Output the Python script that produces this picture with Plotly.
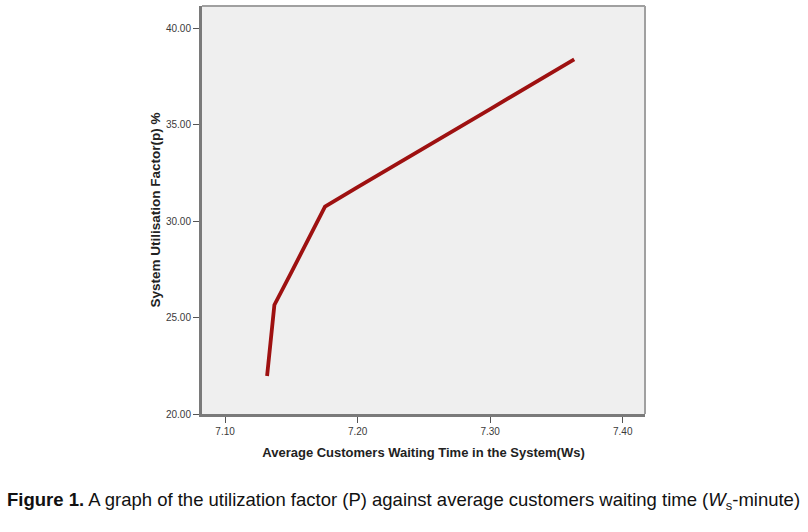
import plotly.graph_objects as go

# Data
waiting_time = [7.1317, 7.1372, 7.150, 7.166, 7.1754, 7.200, 7.250, 7.300, 7.3634]
utilisation = [21.97, 25.65, 27.34, 29.43, 30.74, 31.76, 33.76, 35.80, 38.38]

x_ticks = [7.10, 7.20, 7.30, 7.40]
x_tick_labels = ["7.10", "7.20", "7.30", "7.40"]
y_ticks = [20, 25, 30, 35, 40]
y_tick_labels = ["20.00", "25.00", "30.00", "35.00", "40.00"]

fig = go.Figure()
fig.add_trace(go.Scatter(
    x=waiting_time, y=utilisation, mode="lines",
    line=dict(color="#9e1111", width=3.8),
    showlegend=False, hoverinfo="skip",
))

tick_font = dict(family="Liberation Sans, Arial, sans-serif", size=10, color="#3a3a3a")
xlabel_font = dict(family="Liberation Sans, Arial, sans-serif", size=13, color="#222222")
ylabel_font = dict(family="Liberation Sans, Arial, sans-serif", size=13.5, color="#222222")

fig.update_layout(
    width=808, height=532,
    margin=dict(l=202, r=163, t=6, b=118),
    paper_bgcolor="white",
    plot_bgcolor="#efefef",
    xaxis=dict(
        range=[7.0826, 7.4168], tickvals=x_ticks, ticktext=x_tick_labels,
        showgrid=False, zeroline=False, showline=True, linecolor="#7a7a7a", linewidth=3,
        ticks="outside", ticklen=6, tickcolor="#555555", tickwidth=1,
        tickfont=tick_font,
        title=dict(text="<b>Average Customers Waiting Time in the System(Ws)</b>",
                   font=xlabel_font, standoff=12),
    ),
    yaxis=dict(
        range=[20, 41.14], tickvals=y_ticks, ticktext=y_tick_labels,
        showgrid=False, zeroline=False, showline=True, linecolor="#7a7a7a", linewidth=3,
        ticks="outside", ticklen=6, tickcolor="#555555", tickwidth=1,
        tickfont=tick_font,
        title=dict(text="<b>System Utilisation Factor(p) %</b>", font=ylabel_font, standoff=3),
    ),
)

# top and right frame lines (lighter)
fig.add_shape(type="line", xref="x domain", yref="y domain", x0=0, x1=1, y0=1, y1=1,
              line=dict(color="#a0a0a0", width=2))
fig.add_shape(type="line", xref="x domain", yref="y domain", x0=1, x1=1, y0=0, y1=1,
              line=dict(color="#a0a0a0", width=2))

fig.add_annotation(
    xref="paper", yref="paper",
    x=(403 - 202) / 443, y=(414 - 501) / 408,
    xanchor="center", yanchor="middle", showarrow=False,
    text="<b>Figure 1.</b> A graph of the utilization factor (P) against average customers waiting time (<i>W</i><sub>s</sub>-minute)",
    font=dict(family="Liberation Sans Narrow, Arial Narrow, Liberation Sans, sans-serif", size=18.5, color="#111111"),
)

fig.write_html("out.html")
